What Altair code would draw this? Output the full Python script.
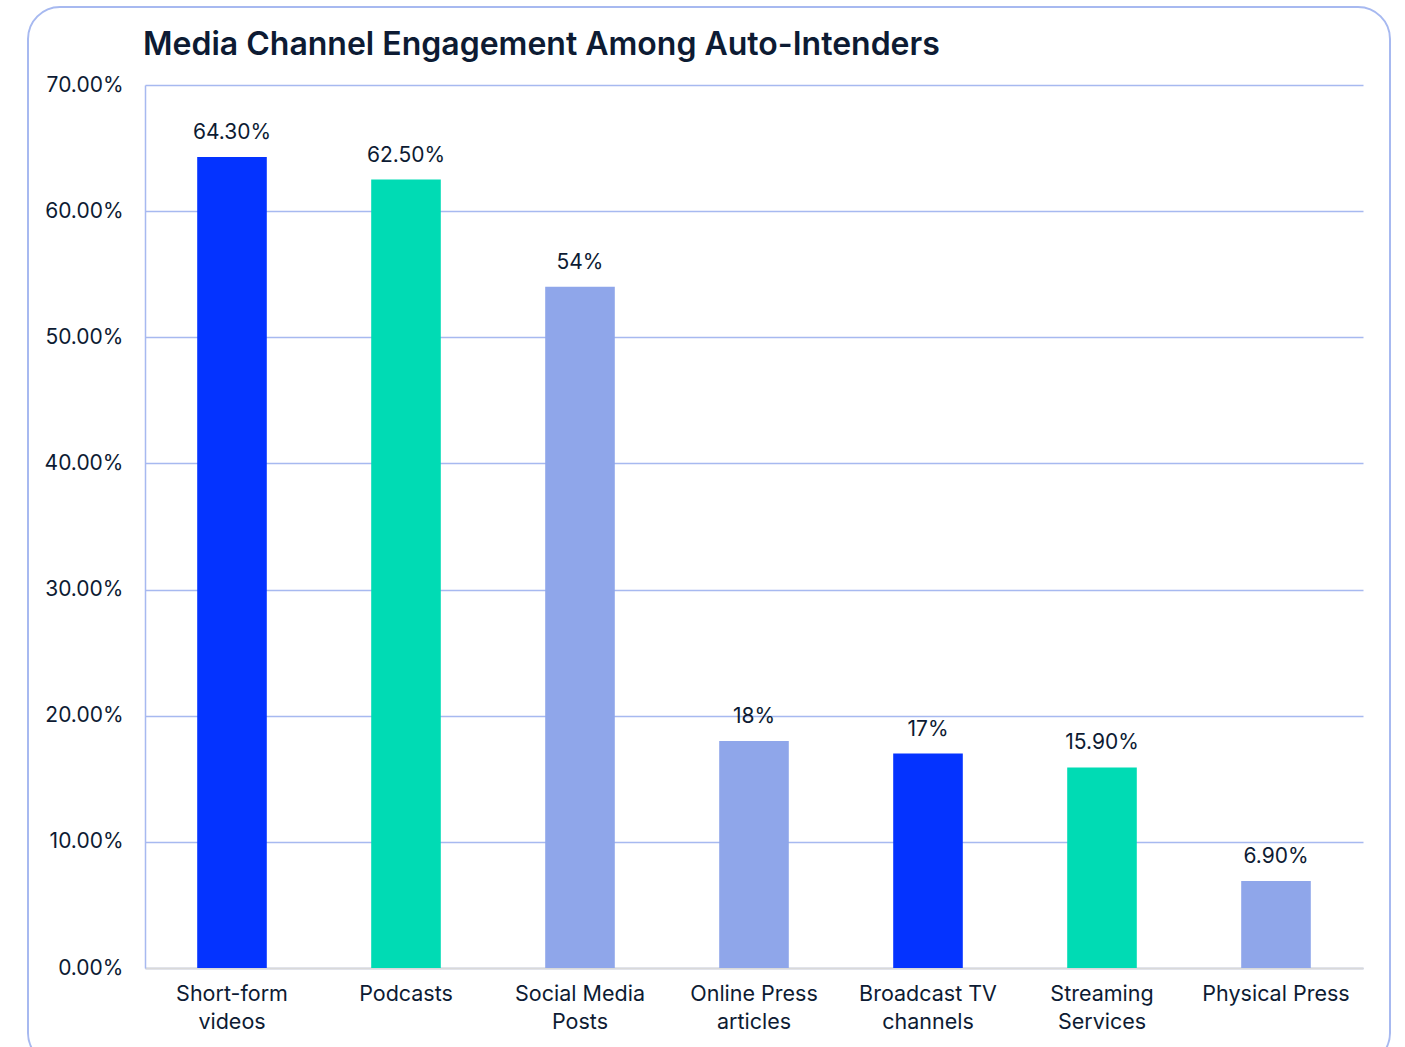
import altair as alt
import pandas as pd

title_text = ["Media Channel Engagement Among Auto-Intenders"]
categories = ["Short-form\nvideos", "Podcasts", "Social Media\nPosts", "Online Press\narticles",
              "Broadcast TV\nchannels", "Streaming\nServices", "Physical Press"]
values = [64.3, 62.5, 54.0, 18.0, 17.0, 15.9, 6.9]
value_labels = ["64.30%", "62.50%", "54%", "18%", "17%", "15.90%", "6.90%"]
bar_colors = ["#0433FF", "#00DBB4", "#8FA6EA", "#8FA6EA", "#0433FF", "#00DBB4", "#8FA6EA"]
y_ticks = [0, 10, 20, 30, 40, 50, 60, 70]

FONT = "Inter"
TEXT = "#0D1B33"
GRID = "#A7B9F0"

df = pd.DataFrame({"cat": categories, "val": values, "lab": value_labels, "col": bar_colors})

x = alt.X("cat:N", sort=categories, title=None,
          scale=alt.Scale(paddingInner=0.6, paddingOuter=0.3),
          axis=alt.Axis(labelAngle=0, labelExpr="split(datum.label, '\\n')",
                        labelFont=FONT, labelFontSize=21.5, labelColor=TEXT,
                        labelLineHeight=28, labelPadding=15, labelBaseline="top",
                        ticks=False, domainColor="#D9D9D9", domainWidth=2))
y = alt.Y("val:Q", title=None,
          scale=alt.Scale(domain=[0, 70], nice=False),
          axis=alt.Axis(values=y_ticks, labelExpr="format(datum.value, '.2f') + '%'",
                        labelFont=FONT, labelFontSize=21, labelColor=TEXT,
                        labelPadding=22, ticks=False, grid=True, gridColor=GRID,
                        gridWidth=1.5, domainColor=GRID, domainWidth=1.5))

base = alt.Chart(df)
bars = base.mark_bar().encode(x=x, y=y, color=alt.Color("col:N", scale=None))
labels = base.mark_text(font=FONT, fontSize=21, color=TEXT, baseline="alphabetic", dy=-18).encode(
    x=alt.X("cat:N", sort=categories), y="val:Q", text="lab:N")

border = alt.Chart(pd.DataFrame({"a": [0]})).mark_rect(
    fill="transparent", stroke=GRID, strokeWidth=2, cornerRadius=32
).encode(x=alt.value(-117), x2=alt.value(1245), y=alt.value(-78), y2=alt.value(980))

title = alt.Chart(pd.DataFrame({"t": title_text})).mark_text(
    font=FONT, fontSize=32, fontWeight=600, color=TEXT, align="left", baseline="alphabetic"
).encode(x=alt.value(-2), y=alt.value(-30), text="t:N")

chart = alt.layer(border, bars, labels, title).properties(
    width=1218, height=883,
    autosize=alt.AutoSizeParams(type="none"),
    padding={"left": 145, "top": 85, "right": 42, "bottom": 79},
).configure(background="white").configure_view(stroke=None)

chart.save("out.html", embed_options={"renderer": "svg", "actions": False})
